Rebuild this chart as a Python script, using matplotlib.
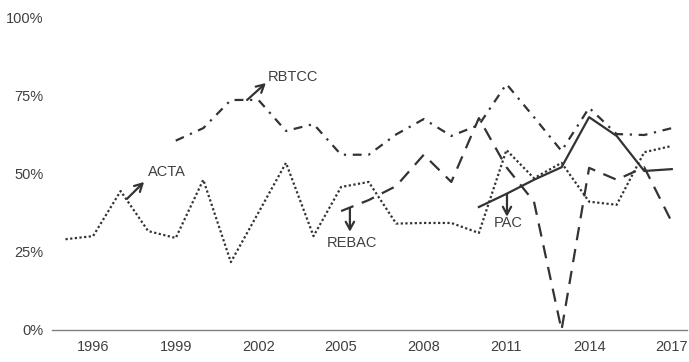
"""Share of cases over time for ACTA, RBTCC, REBAC and PAC."""

import matplotlib

matplotlib.use("Agg")
import matplotlib.pyplot as plt
from matplotlib.ticker import PercentFormatter

plt.rcParams["font.family"] = ["Liberation Sans", "DejaVu Sans"]

acta_years = list(range(1995, 2018))
acta = [29, 30, 44.4, 31.6, 29.4, 48, 21.7, 37.5, 53.4, 30, 45.7, 47.3,
        34, 34.2, 34.2, 31, 57.5, 48.5, 53.4, 41, 40, 56.8, 58.8]

rbtcc_years = list(range(1999, 2018))
rbtcc = [60.5, 64.5, 73.5, 73.5, 63.6, 65.8, 56, 56, 62.5, 67.4, 62, 65.5,
         78.6, 68, 57.2, 71, 62.6, 62.3, 64.5]

rebac_years = list(range(2005, 2018))
rebac = [38, 41.5, 46, 56, 47.3, 67.7, 52, 41, 0, 51.8, 48, 52, 34.5]

pac_years = list(range(2010, 2018))
pac = [39.3, 43.5, 48, 52, 68, 62, 50.8, 51.4]

x_ticks = [1996, 1999, 2002, 2005, 2008, 2011, 2014, 2017]
y_ticks = [0, 25, 50, 75, 100]

LINE = "#333333"
TEXT = "#404040"

fig = plt.figure(figsize=(6.89, 3.62), dpi=100)
ax = fig.add_axes([0.0755, 0.0884, 0.9215, 0.8646])

lw = 1.6
ax.plot(acta_years, acta, color=LINE, linewidth=lw, linestyle=(0, (1, 1.1)))
ax.plot(rbtcc_years, rbtcc, color=LINE, linewidth=lw, linestyle=(0, (4, 3, 1, 3)))
ax.plot(rebac_years, rebac, color=LINE, linewidth=lw, linestyle=(0, (6, 4)))
ax.plot(pac_years, pac, color=LINE, linewidth=lw, linestyle="-")

# label arrows start on the line and point at the series name
arrow = dict(arrowstyle="->,head_length=0.55,head_width=0.3", color=LINE, lw=1.6,
             shrinkA=0, shrinkB=0)
fs = 10.5
ax.annotate("", xy=(1997.85, 47.3), xytext=(1997.23, 41.9), arrowprops=arrow)
ax.text(1997.99, 50.5, "ACTA", fontsize=fs, color=TEXT, ha="left", va="center")
ax.annotate("", xy=(2002.27, 78.9), xytext=(2001.59, 73.5), arrowprops=arrow)
ax.text(2002.35, 80.8, "RBTCC", fontsize=fs, color=TEXT, ha="left", va="center")
ax.annotate("", xy=(2005.32, 31.4), xytext=(2005.32, 39.0), arrowprops=arrow)
ax.text(2005.38, 27.8, "REBAC", fontsize=fs, color=TEXT, ha="center", va="center")
ax.annotate("", xy=(2011.02, 36.2), xytext=(2011.02, 43.5), arrowprops=arrow)
ax.text(2011.05, 34.2, "PAC", fontsize=fs, color=TEXT, ha="center", va="center")

ax.set_xlim(1994.51, 2017.55)
ax.set_ylim(0, 100)
ax.set_xticks(x_ticks)
ax.set_yticks(y_ticks)
ax.yaxis.set_major_formatter(PercentFormatter(decimals=0))
ax.tick_params(axis="both", length=0, labelsize=fs, labelcolor=TEXT)
ax.tick_params(axis="x", pad=7)
ax.tick_params(axis="y", pad=6)

for side in ("top", "right", "left"):
    ax.spines[side].set_visible(False)
ax.spines["bottom"].set_color("#808080")
ax.spines["bottom"].set_linewidth(1.0)

fig.savefig("out.png", dpi=100)
